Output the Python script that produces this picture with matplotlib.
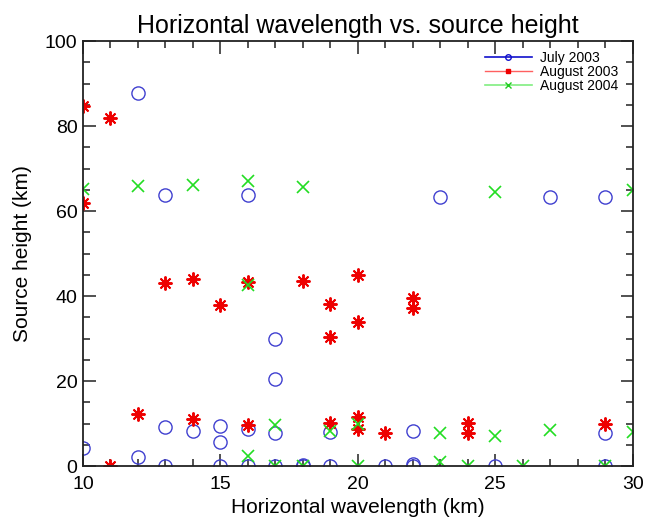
import matplotlib
matplotlib.use("Agg")
import matplotlib.pyplot as plt
from matplotlib.lines import Line2D
from matplotlib.ticker import MultipleLocator

plt.rcParams['font.family'] = ['Liberation Sans', 'DejaVu Sans']

# July 2003 (blue circles)
jul03_x = [10, 12, 13, 16, 23, 27, 29, 17, 17,
           13, 14, 15, 15, 16, 17, 19, 22, 29, 12,
           13, 15, 16, 17, 18, 18, 19, 21, 22, 22, 25, 29]
jul03_y = [4.2, 87.7, 63.8, 63.8, 63.2, 63.2, 63.2, 29.8, 20.4,
           9.2, 8.2, 9.4, 5.6, 8.7, 7.7, 8.0, 8.2, 7.7, 2.2,
           0, 0, 0, 0, 0, 0.3, 0, 0, 0, 0.6, 0, 0]

# August 2003 (red asterisks)
aug03_x = [10, 10, 11, 13, 14, 15, 16, 18, 19, 19, 20, 20, 22, 22,
           12, 14, 16, 19, 20, 20, 21, 24, 24, 29, 11]
aug03_y = [84.8, 62.0, 81.8, 43.0, 44.0, 38.0, 43.4, 43.6, 38.2, 30.4, 45.0, 34.0, 39.5, 37.3,
           12.2, 11.1, 9.6, 10.1, 11.5, 8.8, 7.7, 10.1, 7.7, 9.9, 0]

# August 2004 (green crosses)
aug04_x = [10, 12, 14, 16, 18, 25, 30, 16,
           16, 17, 19, 20, 23, 23, 25, 27, 30,
           17, 18, 20, 24, 26, 29]
aug04_y = [65.2, 65.8, 66.2, 67.1, 65.7, 64.5, 65.0, 42.7,
           2.4, 9.6, 8.2, 9.9, 7.7, 1.0, 7.1, 8.4, 8.0,
           0, 0, 0, 0, 0, 0]

fig = plt.figure(figsize=(6.46, 5.19), dpi=100)
ax = fig.add_axes([0.1285, 0.102, 0.851, 0.819])

ax.plot(jul03_x, jul03_y, linestyle='none', marker='o', markersize=9.5,
        markerfacecolor='none', markeredgecolor='#4040d0', markeredgewidth=1.0)
ax.plot(aug03_x, aug03_y, linestyle='none', marker=(8, 2, 0), markersize=10,
        color='#ee0000', markeredgewidth=1.4)
ax.plot(aug04_x, aug04_y, linestyle='none', marker='x', markersize=9,
        color='#22dd22', markeredgewidth=1.2)

ax.set_xlim(10, 30)
ax.set_ylim(0, 100)
ax.xaxis.set_major_locator(MultipleLocator(5))
ax.xaxis.set_minor_locator(MultipleLocator(1))
ax.yaxis.set_major_locator(MultipleLocator(20))
ax.yaxis.set_minor_locator(MultipleLocator(5))
ax.tick_params(which='both', direction='in', top=True, right=True, width=1.1, color='#222222')
ax.tick_params(which='major', length=9, labelsize=14)
ax.tick_params(which='minor', length=5)
ax.tick_params(axis='x', pad=7)
ax.tick_params(axis='y', pad=4)
for s in ax.spines.values():
    s.set_linewidth(1.3)
    s.set_color('#222222')

ax.set_title("Horizontal wavelength vs. source height", fontsize=18, pad=6)
ax.set_xlabel("Horizontal wavelength (km)", fontsize=15)
ax.set_ylabel("Source height (km)", fontsize=15)
ax.xaxis.set_label_coords(0.5, -0.076)
ax.yaxis.set_label_coords(-0.093, 0.5)

handles = [
    Line2D([], [], color='#1010cc', marker='o', markersize=4, markerfacecolor='none', lw=1.2),
    Line2D([], [], color='#ff6060', marker='s', markersize=3.5, markerfacecolor='#ee0000',
           markeredgecolor='#ee0000', lw=1),
    Line2D([], [], color='#80ee80', marker='x', markersize=4, markeredgecolor='#22cc22', lw=1.2),
]
ax.legend(handles, ["July 2003", "August 2003", "August 2004"], loc='upper right',
          bbox_to_anchor=(0.992, 1.0), frameon=False, fontsize=10,
          handlelength=3.4, labelspacing=0.0, handletextpad=0.6, borderpad=0.2)

fig.savefig("out.png", dpi=100)
